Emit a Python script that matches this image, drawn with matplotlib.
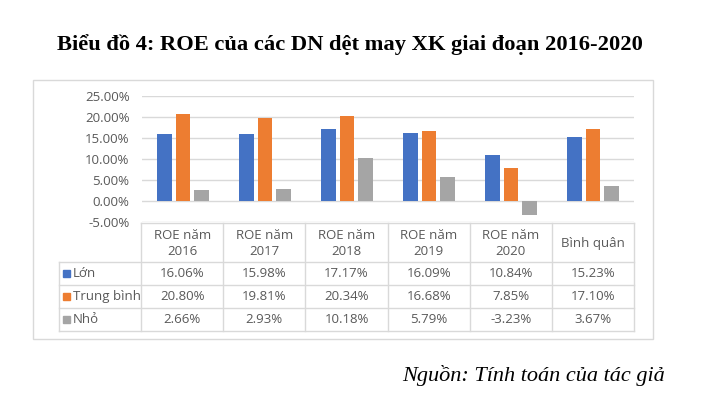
import matplotlib
matplotlib.use("Agg")
import matplotlib.pyplot as plt
from matplotlib.patches import Rectangle
import numpy as np

# ---- data ----
categories = ["ROE năm\n2016", "ROE năm\n2017", "ROE năm\n2018",
              "ROE năm\n2019", "ROE năm\n2020", "Bình quân"]
series_names = ["Lớn", "Trung bình", "Nhỏ"]
lon = [16.06, 15.98, 17.17, 16.09, 10.84, 15.23]
trung_binh = [20.80, 19.81, 20.34, 16.68, 7.85, 17.10]
nho = [2.66, 2.93, 10.18, 5.79, -3.23, 3.67]
yticks = [-5, 0, 5, 10, 15, 20, 25]

title = "Biểu đồ 4: ROE của các DN dệt may XK giai đoạn 2016-2020"
source = "Nguồn: Tính toán của tác giả"

colors = ["#4472C4", "#ED7D31", "#A5A5A5"]
txt_color = "#595959"
grid_color = "#D9D9D9"
font = "Open Sans"

W, H = 726, 396
fig = plt.figure(figsize=(W / 100, H / 100), dpi=100)


def px_axes(x0, y0, x1, y1):
    """x0,y0 top-left; x1,y1 bottom-right in pixels"""
    return fig.add_axes([x0 / W, 1 - y1 / H, (x1 - x0) / W, (y1 - y0) / H])


# outer box
fig.patches.append(Rectangle((33 / W, 1 - 339 / H), (653 - 33) / W, (339 - 80) / H,
                             transform=fig.transFigure, fill=False,
                             edgecolor=grid_color, lw=1.0))

# title and source
fig.text(350 / W, 1 - 45 / H, title, family="Liberation Serif", weight="bold",
         fontsize=16.2, ha="center", va="center", color="black")
fig.text(665 / W, 1 - 375 / H, source, family="Liberation Serif", style="italic",
         fontsize=16, ha="right", va="center", color="black")

# ---- bar axes ----
ax = px_axes(142, 96, 634, 222)
x = np.arange(len(categories))
bw = 0.18
off = 0.224
for i, vals in enumerate([lon, trung_binh, nho]):
    ax.bar(x + (i - 1) * off, vals, width=bw, color=colors[i], zorder=3)
ax.set_xlim(-0.5, len(categories) - 0.5)
ax.set_ylim(-5, 25)
ax.set_yticks(yticks)
ax.set_yticklabels([f"{v:.2f}%" for v in yticks], family=font, fontsize=9.5,
                   color=txt_color)
ax.set_xticks([])
ax.tick_params(axis="y", length=0, pad=9)
ax.grid(axis="y", color=grid_color, lw=1, zorder=0)
for s in ax.spines.values():
    s.set_visible(False)

# ---- data table ----
tax = px_axes(59, 223, 634, 331)
tax.set_xlim(-1.5, len(categories) - 0.5)
tax.set_ylim(108, 0)
tax.axis("off")
rows = [0, 39, 62, 85, 108]
n = len(categories)
kw = dict(color=grid_color, lw=1, clip_on=False)
# horizontal lines
tax.plot([-0.5, n - 0.5], [rows[0], rows[0]], **kw)
for r in rows[1:]:
    tax.plot([-1.5, n - 0.5], [r, r], **kw)
# vertical lines
tax.plot([-1.5, -1.5], [rows[1], rows[-1]], **kw)
for b in np.arange(-0.5, n, 1.0):
    tax.plot([b, b], [rows[0], rows[-1]], **kw)

# header
for i, c in enumerate(categories):
    tax.text(i, (rows[0] + rows[1]) / 2 + 1, c, ha="center", va="center",
             family=font, fontsize=9.5, color=txt_color, linespacing=1.35)

# rows
sw = 7 / 82.1
for j, (name, vals) in enumerate(zip(series_names, [lon, trung_binh, nho])):
    yc = (rows[j + 1] + rows[j + 2]) / 2
    tax.add_patch(Rectangle((-1.5 + 4 / 82.1, yc - 3.5), sw, 7,
                            color=colors[j], clip_on=False))
    tax.text(-1.5 + 14 / 82.1, yc, name, ha="left", va="center",
             family=font, fontsize=9.5, color=txt_color)
    for i, v in enumerate(vals):
        tax.text(i, yc, f"{v:.2f}%", ha="center", va="center",
                 family=font, fontsize=9.5, color=txt_color)

fig.savefig("out.png", dpi=100)
